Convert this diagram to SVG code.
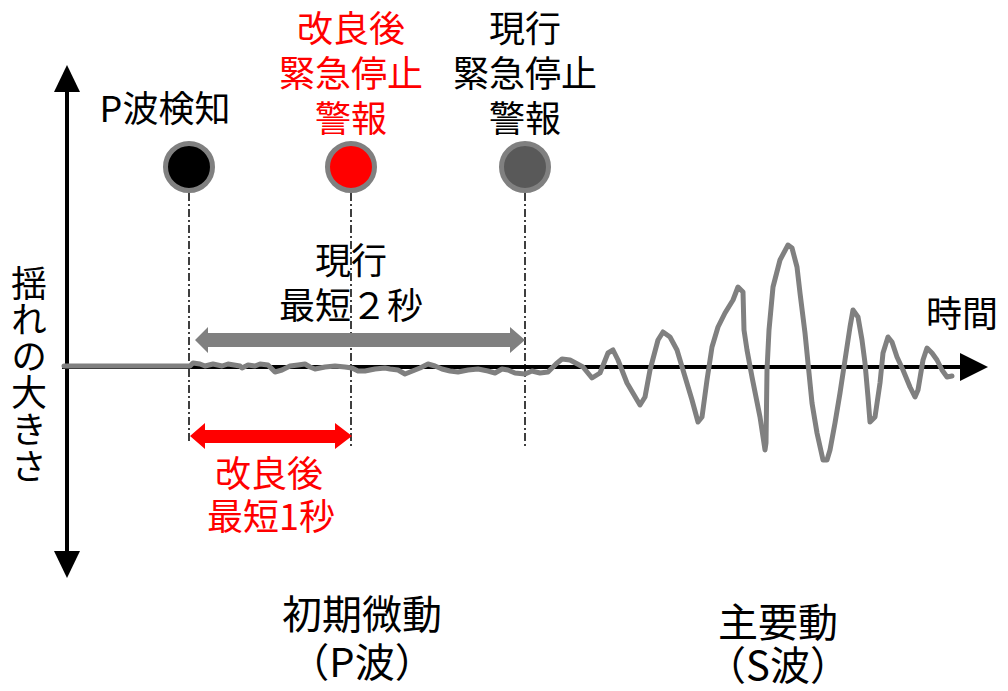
<svg xmlns="http://www.w3.org/2000/svg" width="1008" height="691" viewBox="0 0 1008 691">
<style>
  text { font-family: "Noto Sans CJK JP", "Noto Sans", sans-serif; font-size: 36px; fill: #000; text-anchor: middle; }
  .red { fill: #FF0000; }
  .big { font-size: 40px; }
  .vert { writing-mode: vertical-rl; text-anchor: start; letter-spacing: 0.6px; }
  .guide { stroke: #000; stroke-width: 1.5; stroke-dasharray: 8 3 2 3; fill: none; }
  .dot { stroke: #808080; stroke-width: 5; }
  .wave { fill: none; stroke: #808080; stroke-width: 5; stroke-linejoin: round; stroke-linecap: round; }
</style>
<rect width="1008" height="691" fill="#fff"/>

<g id="axes">
  <line x1="67" y1="90" x2="67" y2="553" stroke="#000" stroke-width="4"/>
  <polygon points="67,65 54,92 80,92" fill="#000"/>
  <polygon points="67,578 54,551 80,551" fill="#000"/>
  <line x1="62" y1="367" x2="962" y2="367" stroke="#000" stroke-width="4"/>
  <polygon points="988,367 960,353 960,381" fill="#000"/>
</g>

<g id="connectors">
  <line class="guide" x1="189" y1="193" x2="189" y2="441"/>
  <line class="guide" x1="351" y1="193" x2="351" y2="446"/>
  <line class="guide" x1="525" y1="193" x2="525" y2="449"/>
  <polygon id="arrow-current" fill="#808080" points="195,340 208,327 208,333 510,333 510,327 525,340 510,353 510,347 208,347 208,353"/>
  <polygon id="arrow-improved" fill="#FF0000" points="190,436 205,423 205,430 335,430 335,423 352,436 335,449 335,443 205,443 205,449"/>
</g>

<g id="waveform">
  <polyline class="wave" points="64,366 190,366 193,363 200,364 205,366 213,364 222,366 228,364 240,366 242,368 248,365 255,366 260,364 268,365 272,369 275,372 282,370 290,366 298,365 305,364 310,367 315,369 325,367 335,366 345,367 352,368 358,371 365,371 375,369 385,368 390,369 398,370 405,374 410,372 420,368 428,364 435,366 442,369 450,371 458,372 468,370 478,369 488,371 495,373 502,369 508,370 515,373 525,374 532,371 540,373 548,372 556,364 562,359 570,360 583,367 592,378 600,373 608,353 613,350 618,360 627,383 640,405 645,397 650,370 658,340 663,332 670,337 677,350 683,370 692,400 698,422 702,417 707,380 712,347 718,327 725,313 733,300 738,287 743,292 744,330 747,350 752,377 760,417 765,450 766,443 767,370 769,330 773,287 780,260 788,245 792,248 797,267 800,293 805,333 808,363 812,403 817,433 823,460 827,460 830,450 835,423 840,393 845,360 850,327 853,310 858,317 862,340 865,363 868,397 870,422 875,417 880,383 883,353 888,337 892,342 897,357 903,370 910,387 915,397 918,390 923,360 927,348 932,353 937,360 942,370 947,377 952,376"/>
</g>

<g id="node-p-detect">
  <circle class="dot" cx="189" cy="167" r="23.5" fill="#000"/>
  <text x="165" y="122">P波検知</text>
</g>

<g id="node-improved-stop">
  <circle class="dot" cx="351" cy="167" r="23.5" fill="#FF0000"/>
  <text class="red"><tspan x="351" y="42">改良後</tspan><tspan x="351" y="87">緊急停止</tspan><tspan x="351" y="132">警報</tspan></text>
</g>

<g id="node-current-stop">
  <circle class="dot" cx="525" cy="167" r="23.5" fill="#595959"/>
  <text><tspan x="525" y="42">現行</tspan><tspan x="525" y="87">緊急停止</tspan><tspan x="525" y="132">警報</tspan></text>
</g>

<g id="label-current-min">
  <text><tspan x="351" y="274">現行</tspan><tspan x="351" y="319">最短２秒</tspan></text>
</g>

<g id="label-improved-min">
  <text class="red"><tspan x="269" y="487">改良後</tspan><tspan x="271" y="530">最短1秒</tspan></text>
</g>

<g id="label-y-axis">
  <text class="vert" x="29" y="265">揺れの大きさ</text>
</g>

<g id="label-x-axis">
  <text x="962" y="327">時間</text>
</g>

<g id="label-p-wave">
  <text class="big"><tspan x="362" y="629">初期微動</tspan><tspan x="362" y="677">（P波）</tspan></text>
</g>

<g id="label-s-wave">
  <text class="big"><tspan x="778" y="637">主要動</tspan><tspan x="778" y="680">（S波）</tspan></text>
</g>
</svg>
